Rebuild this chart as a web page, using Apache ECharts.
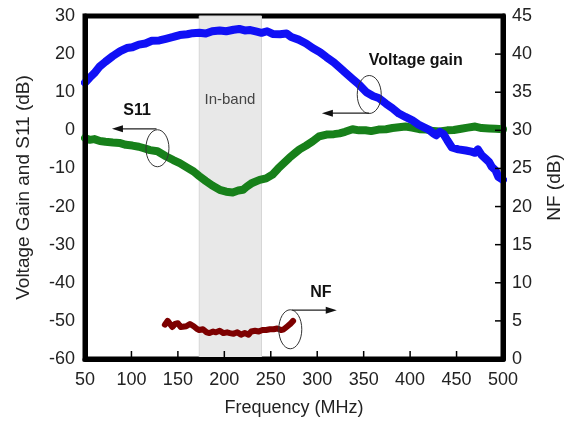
<!DOCTYPE html>
<html>
<head>
<meta charset="utf-8">
<script src="https://cdn.jsdelivr.net/npm/echarts@6/dist/echarts.min.js"></script>
<style>
  html, body { margin: 0; padding: 0; background: #fff; }
  #chart { width: 572px; height: 422px; }
</style>
</head>
<body>
<div id="chart"></div>
<script>
// Voltage gain (dB) versus frequency (MHz)
const gainFreq = [50, 55, 60, 66, 72, 80, 88, 95, 101, 108, 115, 122, 130, 137, 145, 152, 160, 166, 173, 180,
  187, 195, 202, 210, 216, 222, 228, 235, 240, 246, 252, 260, 267, 272, 280, 288, 295, 303, 310, 318,
  325, 331, 338, 345, 353, 360, 366, 374, 381, 388, 395, 402, 409, 415, 420, 425, 428, 432, 436, 440,
  445, 452, 460, 466, 470, 473, 477, 481, 485, 488, 492, 495, 500];
const gainDb = [12.5, 13.8, 15, 16.8, 18, 19.5, 20.8, 21.6, 21.8, 22.5, 22.8, 23.5, 23.6, 24, 24.5, 25, 25.2, 25.5, 25.6, 25.4,
  26, 26.2, 26, 26.4, 26.6, 26.2, 26.3, 25.9, 25.6, 26, 25.3, 25.2, 25.4, 24.5, 23.8, 22.8, 21.6, 20.5, 19.2, 17.8,
  16.3, 15, 13.5, 12, 10, 9, 8.5, 7, 5.8, 4.4, 3.5, 2.7, 1.5, 0.8, 0.2, -0.8, -1.3, -0.4, -1, -2.6,
  -4.5, -5, -5.3, -5.6, -5.9, -5.0, -6.5, -7.4, -8.3, -9.6, -10.5, -12.2, -13];

// Input reflection S11 (dB)
const s11Freq = [50, 55, 60, 66, 72, 80, 87, 94, 101, 108, 115, 120, 128, 137, 145, 152, 160, 167, 173, 180,
  187, 195, 202, 209, 215, 220, 224, 230, 238, 245, 252, 258, 264, 270, 276, 281, 288, 295, 302, 310,
  318, 324, 330, 338, 345, 352, 358, 366, 374, 381, 388, 395, 402, 410, 418, 425, 432, 440, 447, 455,
  462, 470, 477, 485, 492, 500];
const s11Db = [-2, -2.5, -2.3, -2.8, -3, -3.2, -3.3, -3.8, -4, -4.3, -4.8, -5.2, -5.5, -6.8, -7.8, -8.6, -9.8, -10.8, -12, -13.3,
  -14.5, -15.6, -16.1, -16.3, -15.8, -15.6, -14.8, -13.8, -13, -12.6, -11.6, -10, -8.6, -7.2, -6, -5, -4, -2.9, -1.6, -1.1,
  -1, -0.8, -0.4, 0.3, 0, 0, -0.2, 0.2, 0.3, 0.6, 0.8, 1, 0.7, 0.3, 0.2, -0.2, -0.3, 0, 0.1, 0.4,
  0.7, 1, 0.6, 0.5, 0.4, 0.3];

// Noise figure (dB), right axis
const nfFreq = [136, 139, 141, 144, 147, 150, 153, 155, 159, 163, 167, 170, 173, 177, 181, 184, 188, 191, 195, 199,
  203, 206, 210, 214, 218, 222, 226, 229, 233, 237, 241, 245, 249, 253, 257, 261, 264, 268, 271, 274];
const nfDb = [4.5, 5.0, 4.9, 4.2, 4.6, 4.7, 4.2, 4.0, 4.3, 4.6, 4.3, 4.0, 3.8, 3.9, 3.5, 3.4, 3.6, 3.5, 3.7, 3.4,
  3.5, 3.4, 3.3, 3.5, 3.2, 3.4, 3.2, 3.6, 3.7, 3.6, 3.8, 3.8, 3.9, 3.9, 4.0, 3.8, 3.9, 4.3, 4.6, 5.0];

// Pass band edges (MHz)
const inBand = [173, 240];

// Axis ranges and ticks
const freqTicks = [50, 500, 50];
const leftTicks = [-60, 30, 10];
const rightTicks = [0, 45, 5];

const pair = (xs, ys) => xs.map((x, i) => [x, ys[i]]);
const steps = (t) => { const out = []; for (let v = t[0]; v <= t[1] + 1e-9; v += t[2]) out.push(v); return out; };

const FONT = '"Liberation Sans", Arial, sans-serif';
const chart = echarts.init(document.getElementById('chart'));

const frameLine = { show: true, onZero: false, lineStyle: { color: '#000', width: 5 } };

const option = {
  animation: false,
  backgroundColor: '#fff',
  grid: {
    left: 85, right: 69, top: 16, bottom: 63,
    show: true, borderColor: '#000', borderWidth: 5, backgroundColor: 'transparent'
  },
  xAxis: {
    type: 'value', min: freqTicks[0], max: freqTicks[1], interval: freqTicks[2],
    name: 'Frequency (MHz)', nameLocation: 'middle', nameGap: 40,
    nameTextStyle: { fontFamily: FONT, fontSize: 18, color: '#222' },
    axisLine: frameLine,
    axisTick: { show: false },
    axisLabel: { fontFamily: FONT, fontSize: 18, color: '#222', margin: 12 },
    splitLine: { show: false },
    z: 20
  },
  yAxis: [
    {
      type: 'value', min: leftTicks[0], max: leftTicks[1], interval: leftTicks[2],
      name: 'Voltage Gain and S11 (dB)', nameLocation: 'middle', nameGap: 52, nameRotate: 90,
      nameTextStyle: { fontFamily: FONT, fontSize: 19, color: '#222' },
      axisLine: frameLine,
      axisTick: { show: false },
      axisLabel: { fontFamily: FONT, fontSize: 18, color: '#222', margin: 10 },
      splitLine: { show: false },
      z: 20
    },
    {
      type: 'value', min: rightTicks[0], max: rightTicks[1], interval: rightTicks[2],
      name: 'NF (dB)', nameLocation: 'middle', nameGap: 42, nameRotate: 90,
      nameTextStyle: { fontFamily: FONT, fontSize: 19, color: '#222' },
      axisLine: frameLine,
      axisTick: { show: false },
      axisLabel: { fontFamily: FONT, fontSize: 18, color: '#222', margin: 9 },
      splitLine: { show: false },
      z: 20
    }
  ],
  series: [
    {
      name: 'In-band', type: 'line', data: [], yAxisIndex: 0,
      markArea: {
        silent: true,
        itemStyle: { color: '#e8e8e8', borderColor: '#d6d6d6', borderWidth: 1 },
        data: [[{ xAxis: inBand[0] }, { xAxis: inBand[1] }]]
      }
    },
    {
      name: 'S11', type: 'line', yAxisIndex: 0, data: pair(s11Freq, s11Db),
      showSymbol: false, lineStyle: { color: '#17801a', width: 8, join: 'round', cap: 'round' }
    },
    {
      name: 'Voltage gain', type: 'line', yAxisIndex: 0, data: pair(gainFreq, gainDb),
      showSymbol: false, lineStyle: { color: '#1010f5', width: 8, join: 'round', cap: 'round' }
    },
    {
      name: 'NF', type: 'line', yAxisIndex: 1, data: pair(nfFreq, nfDb),
      showSymbol: false, lineStyle: { color: '#7d0000', width: 6, join: 'round', cap: 'round' }
    }
  ]
};
chart.setOption(option);

// Callouts placed in data space (frequency, left-axis dB)
const callouts = [
  { text: 'S11', label: [106, 5.2], ellipse: [128, -4.7, 11.5, 18.5], arrow: [[127, 0.4], [79, 0.4]] },
  { text: 'Voltage gain', label: [406, 18.4], ellipse: [356, 9.4, 12, 19], arrow: [[356, 4.5], [305, 4.5]] },
  { text: 'NF', label: [304, -42.5], ellipse: [271, -52.2, 11.5, 19.5], arrow: [[273, -47.2], [321, -47.2]] }
];
const bandLabel = { text: 'In-band', at: [206, 7.9] };

const toPx = (p) => chart.convertToPixel({ xAxisIndex: 0, yAxisIndex: 0 }, p);
const toPxRight = (p) => chart.convertToPixel({ xAxisIndex: 0, yAxisIndex: 1 }, p);
const elements = [];

// Inward tick marks on the bottom (frequency) and right (NF) axes
const TICK = 6, EDGE = 2;
steps(freqTicks).slice(1, -1).forEach(f => {
  const p = toPx([f, leftTicks[0]]);
  elements.push({ type: 'line', z: 100, shape: { x1: p[0], y1: p[1] - EDGE, x2: p[0], y2: p[1] - EDGE - TICK },
    style: { stroke: '#000', lineWidth: 1.5 } });
});
steps(rightTicks).slice(1, -1).forEach(v => {
  const p = toPxRight([freqTicks[1], v]);
  elements.push({ type: 'line', z: 100, shape: { x1: p[0] - EDGE, y1: p[1], x2: p[0] - EDGE - TICK, y2: p[1] },
    style: { stroke: '#000', lineWidth: 1.5 } });
});

const bp = toPx(bandLabel.at);
elements.push({
  type: 'text', x: bp[0], y: bp[1], z: 5,
  style: { text: bandLabel.text, fontFamily: FONT, fontSize: 15, fill: '#444', align: 'center', verticalAlign: 'middle' }
});
callouts.forEach(c => {
  const lp = toPx(c.label);
  elements.push({
    type: 'text', x: lp[0], y: lp[1], z: 10,
    style: { text: c.text, fontFamily: FONT, fontWeight: 'bold', fontSize: 16, fill: '#111', align: 'center', verticalAlign: 'middle' }
  });
  const ep = toPx([c.ellipse[0], c.ellipse[1]]);
  elements.push({
    type: 'ellipse', z: 10,
    shape: { cx: ep[0], cy: ep[1], rx: c.ellipse[2], ry: c.ellipse[3] },
    style: { fill: 'none', stroke: '#333', lineWidth: 1 }
  });
  const a0 = toPx(c.arrow[0]);
  const a1 = toPx(c.arrow[1]);
  const dir = Math.sign(a1[0] - a0[0]);
  elements.push({
    type: 'line', z: 10,
    shape: { x1: a0[0], y1: a0[1], x2: a1[0] - dir * 8, y2: a1[1] },
    style: { stroke: '#222', lineWidth: 1.2 }
  });
  elements.push({
    type: 'polygon', z: 10,
    shape: { points: [[a1[0], a1[1]], [a1[0] - dir * 11, a1[1] - 3.5], [a1[0] - dir * 11, a1[1] + 3.5]] },
    style: { fill: '#111' }
  });
});
chart.setOption({ graphic: { elements } });
</script>
</body>
</html>
